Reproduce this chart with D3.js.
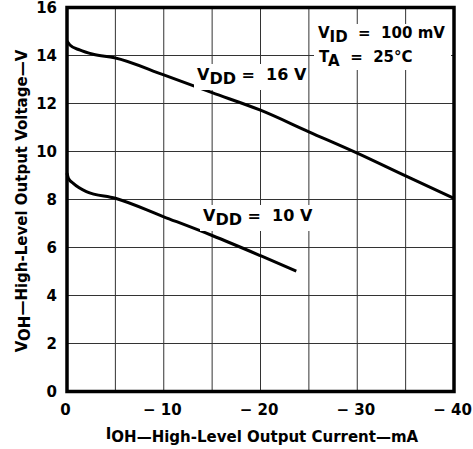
<!DOCTYPE html>
<html><head><meta charset="utf-8">
<script src="https://cdn.jsdelivr.net/npm/d3@7"></script>
<style>
body{margin:0;background:#fff;}
svg{display:block;}
text{font-family:"DejaVu Sans",Arial,Helvetica,sans-serif;font-weight:bold;fill:#000;white-space:pre;}
</style></head>
<body><svg id="c" width="473" height="449"></svg>
<script>
// Data (IOH in mA, VOH in V)
const currents16 = [0, -0.3, -1.3, -2.7, -4.9, -10, -15, -20, -25, -30, -35, -40];
const volts16    = [14.6, 14.44, 14.23, 14.05, 13.91, 13.19, 12.45, 11.72, 10.82, 9.93, 8.98, 8.05];
const currents10 = [0, -0.15, -0.65, -2, -5, -10, -15, -20, -23.7];
const volts10    = [9.1, 8.88, 8.67, 8.33, 8.05, 7.28, 6.5, 5.66, 5.02];
const xGrid = [0, -5, -10, -15, -20, -25, -30, -35, -40];
const xTickVals = [0, -10, -20, -30, -40];
const xTickLabels = ["0", "\u2212 10", "\u2212 20", "\u2212 30", "\u2212 40"];
const yTickVals = [0, 2, 4, 6, 8, 10, 12, 14, 16];

const svg = d3.select("#c");
const x = d3.scaleLinear().domain([0, -40]).range([67, 454]);
const y = d3.scaleLinear().domain([0, 16]).range([391.5, 7.5]);

// grid
const g = svg.append("g");
g.selectAll(".vg").data(xGrid).enter().append("line")
  .attr("x1", d => x(d)).attr("x2", d => x(d)).attr("y1", y(16)).attr("y2", y(0))
  .attr("stroke", "#333").attr("stroke-width", 1);
g.selectAll(".hg").data(yTickVals).enter().append("line")
  .attr("y1", d => y(d)).attr("y2", d => y(d)).attr("x1", x(0)).attr("x2", x(-40))
  .attr("stroke", "#333").attr("stroke-width", 1);

// frame
svg.append("rect").attr("x", x(0)).attr("y", y(16))
  .attr("width", x(-40) - x(0)).attr("height", y(0) - y(16))
  .attr("fill", "none").attr("stroke", "#000").attr("stroke-width", 3.5);

// axes labels
const yAxis = d3.axisLeft(y).tickValues(yTickVals).tickSize(0).tickPadding(10).tickFormat(d3.format("d"));
const ya = svg.append("g").attr("transform", `translate(${x(0)},0)`).call(yAxis);
ya.select(".domain").remove();
ya.selectAll("text").attr("font-size", 15).attr("font-family", null).attr("dy", "0.36em");

const xAxis = d3.axisBottom(x).tickValues(xTickVals).tickSize(0).tickPadding(13)
  .tickFormat((d, i) => xTickLabels[i]);
const xa = svg.append("g").attr("transform", `translate(0,${y(0)})`).call(xAxis);
xa.select(".domain").remove();
xa.selectAll("text").attr("font-size", 15).attr("font-family", null).attr("dx", -2);

// curves
const line = d3.line().x(d => x(d[0])).y(d => y(d[1])).curve(d3.curveMonotoneX);
svg.append("path").datum(d3.zip(currents16, volts16)).attr("d", line)
  .attr("fill", "none").attr("stroke", "#000").attr("stroke-width", 3);
svg.append("path").datum(d3.zip(currents10, volts10)).attr("d", line)
  .attr("fill", "none").attr("stroke", "#000").attr("stroke-width", 3);

// annotations
function label(xp, yp, main, sub, rest, fs) {
  const t = svg.append("text").attr("x", xp).attr("y", yp).attr("font-size", fs);
  t.append("tspan").text(main);
  t.append("tspan").attr("dy", 4).text(sub);
  t.append("tspan").attr("dy", -4).text(rest);
  return t;
}
function bg(xp, yp, w, h){ svg.append("rect").attr("x",xp).attr("y",yp).attr("width",w).attr("height",h).attr("fill","#fff"); }
bg(194, 64, 110, 26);
label(197, 80, "V", "DD", " =  16 V", 16);
bg(200, 205, 118, 26);
label(203, 221, "V", "DD", " =  10 V", 16);
bg(314, 24, 137, 46);
label(318, 38, "V", "ID", "  =  100 mV", 15);
label(319, 62, "T", "A", "  =  25\u00B0C", 15);

// axis titles
const xt = svg.append("text").attr("x", 262).attr("y", 442).attr("text-anchor", "middle").attr("font-size", 15);
xt.append("tspan").attr("dy", -3).text("I");
xt.append("tspan").attr("dy", 3).text("OH");
xt.append("tspan").text("\u2014High-Level Output Current\u2014mA");

const yt = svg.append("text").attr("transform", "translate(27,201) rotate(-90)")
  .attr("text-anchor", "middle").attr("font-size", 15);
yt.append("tspan").text("V");
yt.append("tspan").attr("dy", 3).text("OH");
yt.append("tspan").attr("dy", -3).text("\u2014High-Level Output Voltage\u2014V");
</script></body></html>
